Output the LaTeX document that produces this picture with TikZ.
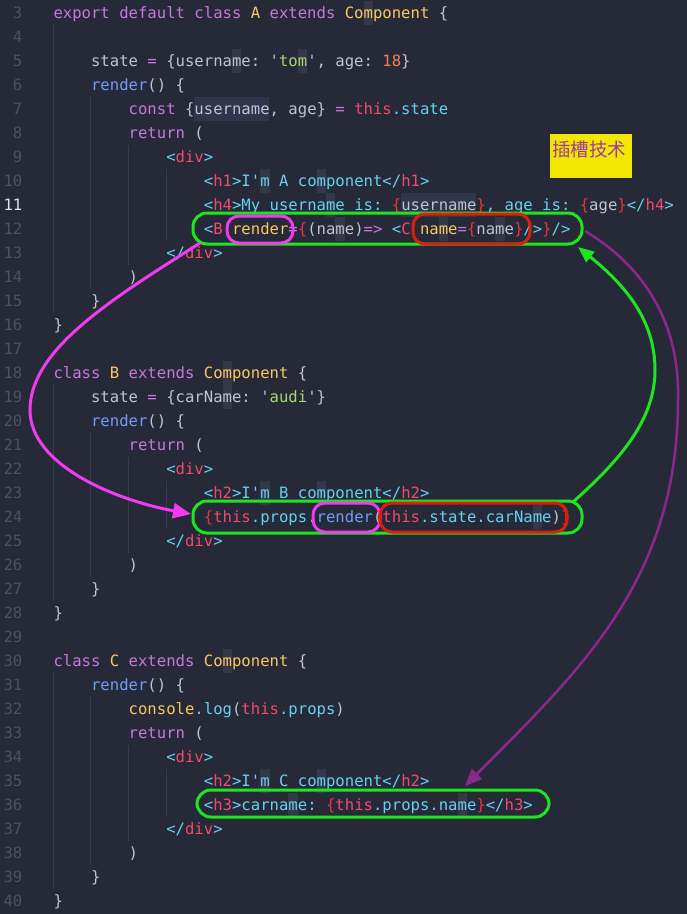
\documentclass[tikz,border=0pt]{standalone}
\usepackage{fontspec}
\setmonofont{DejaVu Sans Mono}
\newfontfamily\cjkfont{Noto Sans CJK SC}
\usetikzlibrary{arrows.meta}
\definecolor{bgc}{RGB}{38,41,56}
\definecolor{lnc}{RGB}{76,82,104}
\definecolor{lnw}{RGB}{225,228,235}
\definecolor{guidec}{RGB}{56,60,80}
\definecolor{selc}{RGB}{48,52,76}
\definecolor{mhl}{RGB}{52,56,72}
\definecolor{ckw}{RGB}{198,120,221}
\definecolor{cyel}{RGB}{250,200,99}
\definecolor{cpl}{RGB}{190,196,210}
\definecolor{cstr}{RGB}{165,215,110}
\definecolor{cnum}{RGB}{247,125,90}
\definecolor{cfn}{RGB}{112,157,245}
\definecolor{ccy}{RGB}{102,209,240}
\definecolor{ctag}{RGB}{242,74,107}
\definecolor{cbr}{RGB}{232,53,58}
\definecolor{grn}{RGB}{30,230,30}
\definecolor{mag}{RGB}{240,60,240}
\definecolor{redb}{RGB}{220,30,10}
\definecolor{purp}{RGB}{140,40,140}
\definecolor{yel}{RGB}{243,230,0}
\definecolor{ytxt}{RGB}{160,60,150}
\setlength{\fboxsep}{0pt}
\newcommand\cK[1]{\textcolor{ckw}{#1}}
\newcommand\cY[1]{\textcolor{cyel}{#1}}
\newcommand\cS[1]{\textcolor{cstr}{#1}}
\newcommand\cN[1]{\textcolor{cnum}{#1}}
\newcommand\cF[1]{\textcolor{cfn}{#1}}
\newcommand\cC[1]{\textcolor{ccy}{#1}}
\newcommand\cT[1]{\textcolor{ctag}{#1}}
\newcommand\cB[1]{\textcolor{cbr}{#1}}
\newcommand\mm{\colorbox{mhl}{\rule[-7pt]{0pt}{24pt}m}}
\newcommand\codeln[3]{\node[code] (c#1) at ({53.3+9.4*#2},{18+24*(#1-3)}) {#3};}
\newcommand\guide[3]{\draw[guideline] ({53.3+37.6*#1},{1+24*(#2-3)}) -- ({53.3+37.6*#1},{25+24*(#3-3)});}
\begin{document}
\begin{tikzpicture}[x=1pt,y=-1pt,
  code/.style={anchor=base west, inner sep=0pt, text=cpl, font=\ttfamily\fontsize{15.61}{24}\selectfont},
  lnum/.style={anchor=base east, inner sep=0pt, text=lnc, font=\ttfamily\fontsize{15.61}{24}\selectfont},
  guideline/.style={draw=guidec, line width=1pt},
  gbox/.style={draw=grn, line width=3pt, rounded corners=14pt, inner sep=0pt},
  mbox/.style={draw=mag, line width=3pt, rounded corners=12pt, inner sep=0pt},
  rbox/.style={draw=redb, line width=3pt, rounded corners=12pt, inner sep=0pt},
  marrow/.style={draw=mag, line width=3pt, -{Triangle[length=18pt,width=15pt]}},
  garrow/.style={draw=grn, line width=3pt, -{Triangle[length=16pt,width=13pt]}},
  parrow/.style={draw=purp, line width=2.5pt, -{Triangle[length=17pt,width=14pt]}}]
\useasboundingbox (0,0) rectangle (687,914);
\fill[bgc] (0,0) rectangle (687,914);
% indent guides
\guide{0}{4}{15}\guide{1}{7}{14}\guide{2}{9}{13}\guide{3}{10}{12}
\guide{0}{19}{27}\guide{1}{21}{26}\guide{2}{22}{25}\guide{3}{23}{24}
\guide{0}{31}{39}\guide{1}{32}{38}\guide{2}{34}{37}\guide{3}{35}{36}
% selections
\fill[selc] (193.5,97) rectangle (268.6,121);
\fill[selc] (401,193) rectangle (476.3,217);
% line numbers
\foreach \n in {3,...,10,12,13,...,40} {\node[lnum] (ln\n) at (22.5,{18+24*(\n-3)}) {\n};}
\node[lnum, text=lnw] (ln11) at (22.5,{18+24*8}) {11};
% code
\codeln{3}{0}{\cK{export default class} \cY{A} \cK{extends} \cY{Co\mm ponent} \{}
\codeln{5}{4}{state \cK{=} \{userna\mm e: '\cS{to\mm}', age: \cN{18}\}}
\codeln{6}{4}{\cF{render}() \{}
\codeln{7}{8}{\cK{const} \{username, age\} \cK{=} \cT{this}\cC{.state}}
\codeln{8}{8}{\cK{return} (}
\codeln{9}{12}{\cC{<}\cT{div}\cC{>}}
\codeln{10}{16}{\cC{<}\cT{h1}\cC{>I'\mm{} A co\mm ponent</}\cT{h1}\cC{>}}
\codeln{11}{16}{\cC{<}\cT{h4}\cC{>My userna\mm e is: }\cB{\{}username\cB{\}}\cC{, age is: }\cB{\{}age\cB{\}}\cC{</}\cT{h4}\cC{>}}
\codeln{12}{16}{\cC{<}\cT{B} \cY{render}\cK{=}\cB{\{}(na\mm e)\cK{=>} \cC{<}\cT{C} \cY{na\mm e}\cK{=}\cB{\{}na\mm e\cB{\}}\cC{/>}\cB{\}}\cC{/>}}
\codeln{13}{12}{\cC{</}\cT{div}\cC{>}}
\codeln{14}{8}{)}
\codeln{15}{4}{\}}
\codeln{16}{0}{\}}
\codeln{18}{0}{\cK{class} \cY{B} \cK{extends} \cY{Co\mm ponent} \{}
\codeln{19}{4}{state \cK{=} \{carNa\mm e: '\cS{audi}'\}}
\codeln{20}{4}{\cF{render}() \{}
\codeln{21}{8}{\cK{return} (}
\codeln{22}{12}{\cC{<}\cT{div}\cC{>}}
\codeln{23}{16}{\cC{<}\cT{h2}\cC{>I'\mm{} B co\mm ponent</}\cT{h2}\cC{>}}
\codeln{24}{16}{\cB{\{}\cT{this}\cC{.props.}\cF{render}(\cT{this}\cC{.state.carNa\mm e})\cB{\}}}
\codeln{25}{12}{\cC{</}\cT{div}\cC{>}}
\codeln{26}{8}{)}
\codeln{27}{4}{\}}
\codeln{28}{0}{\}}
\codeln{30}{0}{\cK{class} \cY{C} \cK{extends} \cY{Co\mm ponent} \{}
\codeln{31}{4}{\cF{render}() \{}
\codeln{32}{8}{\cY{console}\cC{.log}(\cT{this}\cC{.props})}
\codeln{33}{8}{\cK{return} (}
\codeln{34}{12}{\cC{<}\cT{div}\cC{>}}
\codeln{35}{16}{\cC{<}\cT{h2}\cC{>I'\mm{} C co\mm ponent</}\cT{h2}\cC{>}}
\codeln{36}{16}{\cC{<}\cT{h3}\cC{>carna\mm e: }\cB{\{}\cT{this}\cC{.props.na\mm e}\cB{\}}\cC{</}\cT{h3}\cC{>}}
\codeln{37}{12}{\cC{</}\cT{div}\cC{>}}
\codeln{38}{8}{)}
\codeln{39}{4}{\}}
\codeln{40}{0}{\}}
% annotation boxes
\node[gbox, minimum width=389pt, minimum height=31pt] (gA) at (387.5,228.5) {};
\node[mbox, minimum width=66pt, minimum height=27pt] (mA) at (260,229.5) {};
\node[rbox, minimum width=117pt, minimum height=30pt] (rA) at (471.5,229) {};
\node[gbox, minimum width=389pt, minimum height=32pt] (gB) at (387.5,517) {};
\node[mbox, minimum width=67pt, minimum height=29pt] (mB) at (346.5,517.5) {};
\node[rbox, minimum width=187pt, minimum height=29pt] (rB) at (473.5,517.5) {};
\node[gbox, minimum width=352pt, minimum height=27pt] (gC) at (373,803.5) {};
% arrows
\coordinate (mStart) at (200,243);
\coordinate (mEnd) at (191,514);
\coordinate (gStart) at (573,502);
\coordinate (gEnd) at (578,247);
\coordinate (pStart) at (585,231);
\coordinate (pEnd) at (465,786);
\draw[marrow] (mStart) .. controls (110,300) and (30,350) .. (30,410) .. controls (30,465) and (115,500) .. (mEnd);
\draw[garrow] (gStart) .. controls (620,460) and (655,420) .. (655,370) .. controls (655,320) and (625,285) .. (gEnd);
\draw[parrow] (pStart) .. controls (650,270) and (680,330) .. (678,400) .. controls (678,580) and (580,670) .. (pEnd);
% yellow label
\node[fill=yel, minimum width=82pt, minimum height=44pt, inner sep=0pt, anchor=north west] (ybox) at (550,134) {};
\node[anchor=base west, inner sep=0pt, text=ytxt, font=\cjkfont\fontsize{18.5}{20}\selectfont] (ylab) at (552,156.5) {插槽技术};
\end{tikzpicture}
\end{document}
